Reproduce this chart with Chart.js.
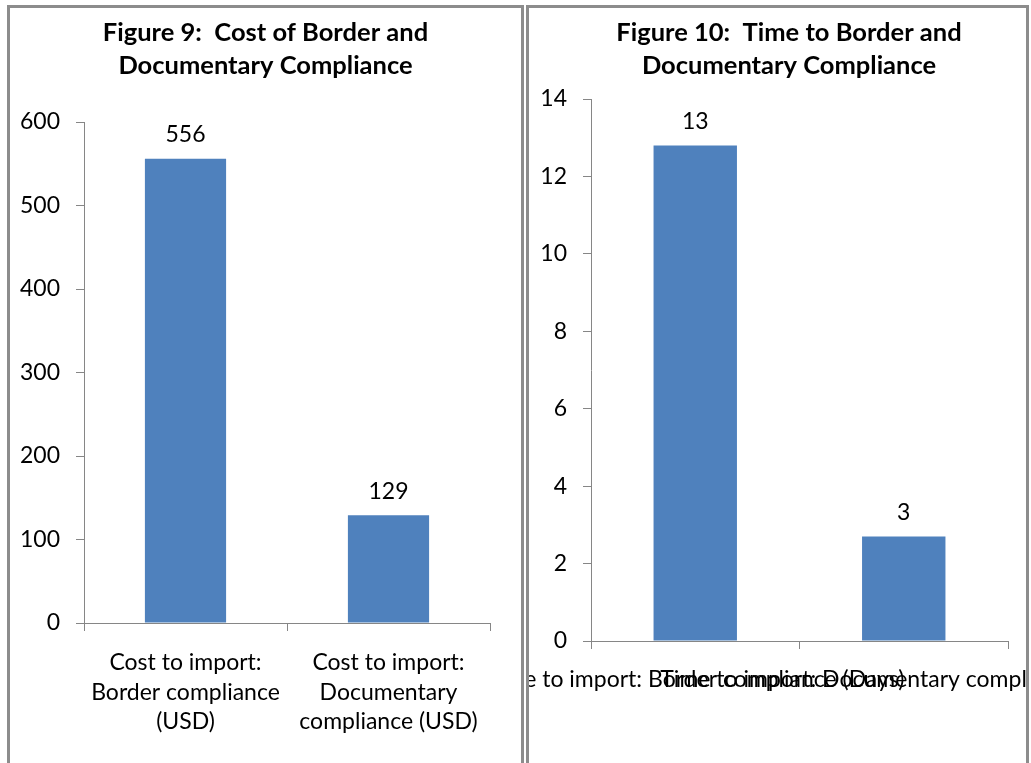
<!DOCTYPE html>
<html>
<head>
<meta charset="utf-8">
<script src="https://cdn.jsdelivr.net/npm/chart.js@4.4.1/dist/chart.umd.min.js"></script>
<style>
  body { margin: 0; background: #fff; }
  .panel { position: absolute; top: 5px; height: 760px; border: 3px solid #8c8c8c; overflow: hidden; background: #fff; }
  #panel-cost { left: 7px; width: 511px; }
  #panel-time { left: 526px; width: 497px; }
  canvas { display: block; }
</style>
</head>
<body>
<div class="panel" id="panel-cost"><canvas id="cost-chart" width="511" height="760"></canvas></div>
<!-- the time chart is a bit wider than its frame, the frame cuts its right side -->
<div class="panel" id="panel-time"><canvas id="time-chart" width="520" height="760"></canvas></div>

<script>
// figure 9: cost (USD)
const costTitle = ['Figure 9:  Cost of Border and', 'Documentary Compliance'];
const costLabels = [
    ['Cost to import:', 'Border compliance', '(USD)'],
    ['Cost to import:', 'Documentary', 'compliance (USD)']
];
const costValues = [556, 129];
const costAxis = [0, 600, 100]; // min, max, step

// figure 10: time (days)
const timeTitle = ['Figure 10:  Time to Border and', 'Documentary Compliance'];
const timeLabels = [
    'Time to import: Border compliance (Days)',
    'Time to import: Documentary compliance (Days)'
];
const timeValues = [12.8, 2.7];
const timeAxis = [0, 14, 2];

const BAR = '#4f81bd';
const AXIS = '#868686';
const FONT = 'Lato, "Liberation Sans", sans-serif';

Chart.defaults.font.family = FONT;
Chart.defaults.font.size = 23;
Chart.defaults.color = '#000';

// numbers above each bar
const valueLabels = {
    id: 'valueLabels',
    afterDatasetsDraw(chart, args, opts) {
        let ctx = chart.ctx;
        let meta = chart.getDatasetMeta(0);
        let values = chart.data.datasets[0].data;
        ctx.save();
        ctx.font = '23px ' + FONT;
        ctx.fillStyle = '#000';
        ctx.textAlign = 'center';
        ctx.textBaseline = 'middle';
        meta.data.forEach((bar, i) => {
            ctx.fillText(values[i].toFixed(opts.decimals), bar.x, bar.y - opts.offset);
        });
        ctx.restore();
    }
};

function makeChart(id, title, labels, values, axis, box) {
    let ctx = document.getElementById(id).getContext('2d');
    return new Chart(ctx, {
        type: 'bar',
        data: {
            labels: labels,
            datasets: [{
                data: values,
                backgroundColor: BAR,
                barPercentage: 0.4,
                categoryPercentage: 1
            }]
        },
        plugins: [valueLabels],
        options: {
            responsive: false,
            animation: false,
            layout: { padding: 0 },
            plugins: {
                legend: { display: false },
                tooltip: { enabled: false },
                title: {
                    display: true,
                    text: title,
                    color: '#000',
                    font: { size: 25.5, weight: 'bold', lineHeight: '33px' },
                    padding: { top: 8, bottom: box.titleGap }
                },
                valueLabels: { offset: 24, decimals: 0 }
            },
            scales: {
                x: {
                    grid: { display: true, drawOnChartArea: false, drawTicks: true, tickLength: 8, color: AXIS, offset: true },
                    border: { display: true, color: AXIS, width: 1 },
                    ticks: { autoSkip: false, maxRotation: 0, minRotation: 0, padding: box.labelPad, font: { size: 23, lineHeight: '29.5px' } },
                    afterFit(scale) {
                        scale.height = box.xHeight;
                        scale.paddingLeft = 0;
                        scale.paddingRight = box.padRight;
                    }
                },
                y: {
                    min: axis[0],
                    max: axis[1],
                    ticks: { stepSize: axis[2], padding: 16 },
                    grid: { display: true, drawOnChartArea: false, drawTicks: true, tickLength: 8, color: AXIS },
                    border: { display: true, color: AXIS, width: 1 },
                    afterFit(scale) {
                        scale.width = box.yWidth;
                        scale.paddingTop = 0;
                        scale.paddingBottom = 0;
                    }
                }
            }
        }
    });
}

makeChart('cost-chart', costTitle, costLabels, costValues, costAxis,
    { padRight: 31, yWidth: 74, xHeight: 145, titleGap: 40, labelPad: 17 });

makeChart('time-chart', timeTitle, timeLabels, timeValues, timeAxis,
    { padRight: 41, yWidth: 62, xHeight: 127, titleGap: 17, labelPad: 16 });
</script>
</body>
</html>
